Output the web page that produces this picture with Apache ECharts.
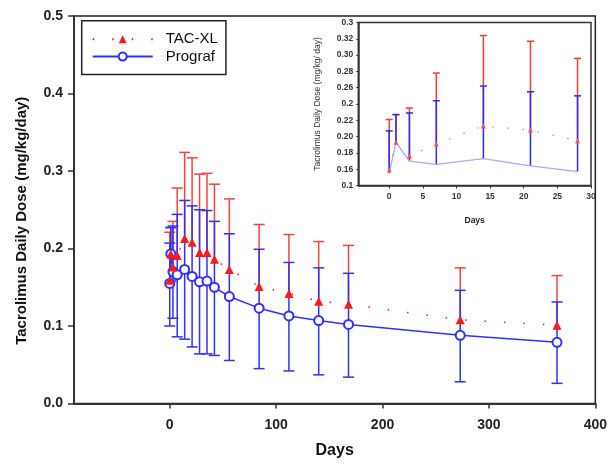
<!DOCTYPE html>
<html><head><meta charset="utf-8">
<script src="https://cdn.jsdelivr.net/npm/echarts@6/dist/echarts.min.js"></script>
<style>html,body{margin:0;padding:0;background:#fff}#c{width:610px;height:464px}</style>
</head><body><div id="c"></div>
<script>
// ---- data ----
var days      = [0, 1, 3, 7, 14, 21, 28, 35, 42, 56, 84, 112, 140, 168, 273, 364];
var tacMean   = [0.159, 0.193, 0.176, 0.191, 0.213, 0.208, 0.195, 0.195, 0.186, 0.173, 0.151, 0.142, 0.132, 0.128, 0.108, 0.101];
var tacHigh   = [0.221, 0.227, 0.235, 0.278, 0.324, 0.317, 0.296, 0.297, 0.283, 0.264, 0.231, 0.218, 0.209, 0.204, 0.175, 0.165];
var progMean  = [0.155, 0.193, 0.170, 0.166, 0.173, 0.164, 0.157, 0.158, 0.150, 0.138, 0.123, 0.113, 0.107, 0.102, 0.088, 0.079];
var progHigh  = [0.207, 0.227, 0.229, 0.244, 0.262, 0.255, 0.250, 0.249, 0.235, 0.219, 0.199, 0.182, 0.175, 0.168, 0.146, 0.131];
var progLow   = [0.100, 0.158, 0.110, 0.086, 0.083, 0.073, 0.064, 0.064, 0.062, 0.0555, 0.045, 0.042, 0.037, 0.034, 0.028, 0.026];
var insetCount = 7; // days 0..28 shown in inset
var mainXTicks = [0, 100, 200, 300, 400];
var insetXTicks = [0, 5, 10, 15, 20, 25, 30];
var insetYLabels = ["0.1", "0.16", "0.18", "0.20", "0.22", "0.2", "0.26", "0.28", "0.30", "0.32", "0.3"];
var seriesNames = ["TAC-XL", "Prograf"];

// ---- styling ----
var RED = '#ff1a1a', RED_BAR = '#ff4040', BLUE = '#3030ff';
var FONT = '"Liberation Sans", Arial, sans-serif';

function pairs(xs, ys, n) { var o = []; for (var i = 0; i < n; i++) o.push([xs[i], ys[i]]); return o; }
function triples(xs, a, b, n) { var o = []; for (var i = 0; i < n; i++) o.push([xs[i], a[i], b[i]]); return o; }

function errBar(color, lw, capHalf, capLow) {
  return function (params, api) {
    var x = api.value(0), lo = api.value(1), hi = api.value(2);
    var pLo = api.coord([x, lo]), pHi = api.coord([x, hi]);
    var ch = [
      {type: 'line', shape: {x1: pLo[0], y1: pLo[1], x2: pHi[0], y2: pHi[1]}, style: {stroke: color, lineWidth: lw}},
      {type: 'line', shape: {x1: pHi[0] - capHalf, y1: pHi[1], x2: pHi[0] + capHalf, y2: pHi[1]}, style: {stroke: color, lineWidth: lw}}
    ];
    if (capLow) ch.push({type: 'line', shape: {x1: pLo[0] - capHalf, y1: pLo[1], x2: pLo[0] + capHalf, y2: pLo[1]}, style: {stroke: color, lineWidth: lw}});
    return {type: 'group', children: ch};
  };
}

var N = days.length;
var chart = echarts.init(document.getElementById('c'), null, {renderer: 'canvas'});
chart.setOption({
  animation: false,
  backgroundColor: '#fff',
  textStyle: {fontFamily: FONT},
  grid: [
    {left: 74, top: 16, width: 523.5, height: 388.5, show: true, borderColor: '#222', borderWidth: 1.5},
    {left: 358.3, top: 22.5, width: 232.7, height: 163, show: true, borderColor: '#333', borderWidth: 1.5}
  ],
  legend: {
    data: seriesNames,
    orient: 'vertical',
    left: 81.7, top: 20.7,
    padding: [11, 8, 10.5, 10],
    itemWidth: 60, itemHeight: 10, itemGap: 2.4,
    borderColor: '#222', borderWidth: 1.5,
    textStyle: {fontSize: 15, color: '#111', fontFamily: FONT, padding: [0, 0, 0, 8]}
  },
  xAxis: [
    {gridIndex: 0, type: 'value', min: -90, max: 400,
      name: 'Days', nameLocation: 'middle', nameGap: 39.5,
      nameTextStyle: {fontSize: 16, fontWeight: 'bold', color: '#111', fontFamily: FONT},
      axisLine: {onZero: false, lineStyle: {color: '#333', width: 2}},
      axisTick: {inside: false, length: 5, customValues: mainXTicks, lineStyle: {color: '#333', width: 1.5}},
      axisLabel: {customValues: mainXTicks, margin: 15, fontSize: 14, fontWeight: 'bold', color: '#222', fontFamily: FONT},
      splitLine: {show: false}},
    {gridIndex: 1, type: 'value', min: -4.6, max: 30,
      name: 'Days', nameLocation: 'middle', nameGap: 30.5,
      nameTextStyle: {fontSize: 8.5, fontWeight: 'bold', color: '#222', fontFamily: FONT},
      axisLine: {onZero: false, lineStyle: {color: '#333', width: 1.5}},
      axisTick: {inside: false, length: 3, customValues: insetXTicks, lineStyle: {color: '#333', width: 1}},
      axisLabel: {customValues: insetXTicks, margin: 7, fontSize: 8.5, fontWeight: 'bold', color: '#333', fontFamily: FONT},
      splitLine: {show: false}}
  ],
  yAxis: [
    {gridIndex: 0, type: 'value', min: 0, max: 0.5, interval: 0.1,
      name: 'Tacrolimus Daily Dose (mg/kg/day)', nameLocation: 'middle', nameGap: 44.5,
      nameTextStyle: {fontSize: 15, fontWeight: 'bold', color: '#111', fontFamily: FONT, padding: [0, 22, 0, 0]},
      axisLine: {onZero: false, lineStyle: {color: '#333', width: 2}},
      axisTick: {inside: false, length: 6, lineStyle: {color: '#333', width: 1.5}},
      axisLabel: {margin: 11, fontSize: 14, fontWeight: 'bold', color: '#222', fontFamily: FONT,
        formatter: function (v) { return v.toFixed(1); }},
      splitLine: {show: false}},
    {gridIndex: 1, type: 'value', min: 0.14, max: 0.34, interval: 0.02,
      name: 'Tacrolimus Daily Dose (mg/kg/ day)', nameLocation: 'middle', nameGap: 36.6,
      nameTextStyle: {fontSize: 8.5, color: '#333', fontFamily: FONT},
      axisLine: {onZero: false, lineStyle: {color: '#333', width: 1.5}},
      axisTick: {inside: false, length: 2, lineStyle: {color: '#333', width: 1}},
      axisLabel: {margin: 5, fontSize: 8.5, fontWeight: 'bold', color: '#333', fontFamily: FONT,
        formatter: function (v) { return insetYLabels[Math.round((v - 0.14) / 0.02)]; }},
      splitLine: {show: false}}
  ],
  series: [
    // main error bars
    {type: 'custom', xAxisIndex: 0, yAxisIndex: 0, renderItem: errBar(RED_BAR, 1.5, 5.5, false),
      data: triples(days, tacMean, tacHigh, N), encode: {x: 0, y: [1, 2]}, silent: true},
    {type: 'custom', xAxisIndex: 0, yAxisIndex: 0, renderItem: errBar(BLUE, 1.5, 5.5, true),
      data: triples(days, progLow, progHigh, N), encode: {x: 0, y: [1, 2]}, silent: true},
    // main lines
    {name: 'Prograf', type: 'line', xAxisIndex: 0, yAxisIndex: 0, data: pairs(days, progMean, N),
      symbol: 'emptyCircle', symbolSize: 9, color: BLUE,
      itemStyle: {color: BLUE, borderColor: BLUE, borderWidth: 1.5},
      lineStyle: {color: BLUE, width: 1.5}},
    {name: 'TAC-XL', type: 'line', xAxisIndex: 0, yAxisIndex: 0, data: pairs(days, tacMean, N),
      symbol: 'triangle', symbolSize: 9, color: RED,
      itemStyle: {color: RED},
      lineStyle: {color: RED, width: 1.5, type: [1.5, 18]}},
    // inset
    {type: 'custom', xAxisIndex: 1, yAxisIndex: 1, renderItem: errBar('#ff3a3a', 1.5, 3.5, false),
      data: triples(days, tacMean, tacHigh, insetCount), encode: {x: 0, y: [1, 2]}, silent: true},
    {type: 'custom', xAxisIndex: 1, yAxisIndex: 1, renderItem: errBar('#2a2aff', 1.5, 3.5, false),
      data: triples(days, progMean, progHigh, insetCount), encode: {x: 0, y: [1, 2]}, silent: true},
    {type: 'line', xAxisIndex: 1, yAxisIndex: 1, data: pairs(days, progMean, insetCount),
      symbol: 'none', lineStyle: {color: '#a8a8ff', width: 1.3}, silent: true},
    {type: 'line', xAxisIndex: 1, yAxisIndex: 1, data: pairs(days, tacMean, insetCount),
      symbol: 'triangle', symbolSize: 5, itemStyle: {color: '#ff5050'},
      lineStyle: {color: '#ff5050', width: 1.2, type: [1.2, 14]}, silent: true}
  ]
});
</script></body></html>
